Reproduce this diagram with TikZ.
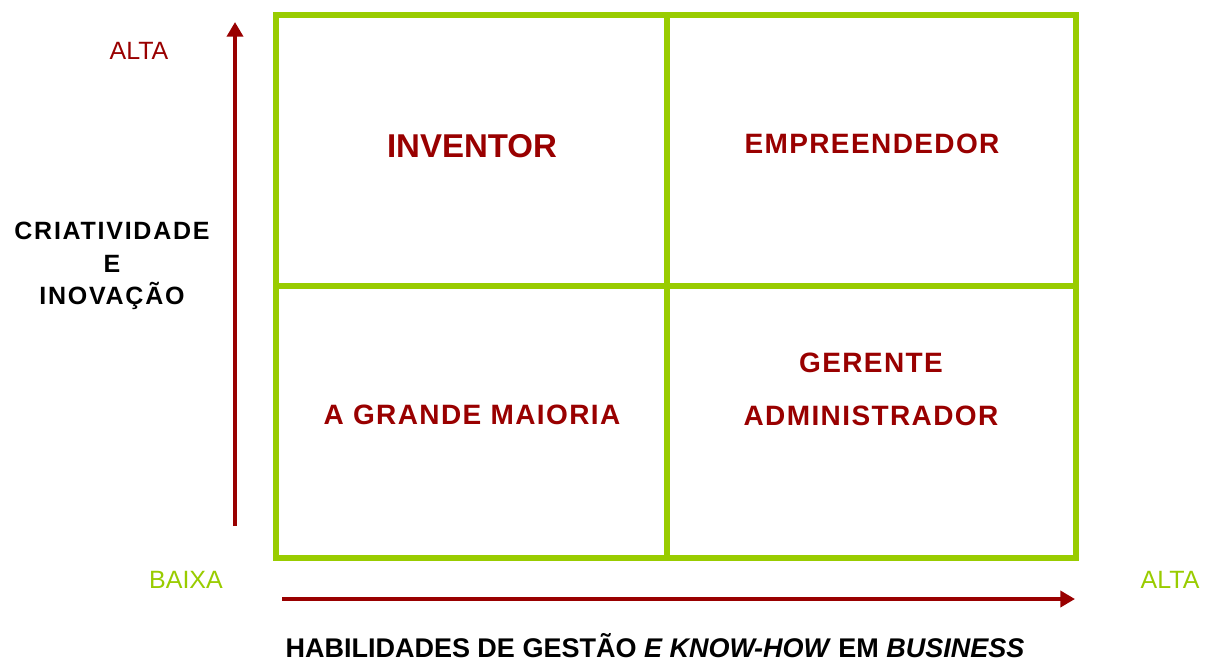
\documentclass[tikz,border=0pt]{standalone}
\usepackage{fontspec}
\setmainfont{Liberation Sans}
\usetikzlibrary{arrows.meta}
\definecolor{gridgreen}{HTML}{99CC00}
\definecolor{axisred}{HTML}{990000}

\begin{document}
\begin{tikzpicture}[x=0.75pt,y=-0.75pt,
	quadline/.style={draw=gridgreen,line width=4.5pt},
	axis/.style={draw=axisred,line width=3pt,-{Triangle[length=11pt,width=12pt]}},
	quadlabel/.style={text=axisred,font=\bfseries\fontsize{21}{25}\selectfont\addfontfeature{LetterSpace=5},anchor=base,inner sep=0pt},
	levellabel/.style={font=\fontsize{18.75}{22}\selectfont,anchor=base,inner sep=0pt}]
	\useasboundingbox (0,0) rectangle (1205,662);
	\coordinate (nw) at (276,15);
	\coordinate (se) at (1076,558);
	\coordinate (ntop) at (667,12);
	\coordinate (nbot) at (667,558);
	\coordinate (wmid) at (276,286);
	\coordinate (emid) at (1076,286);
	\draw [quadline] (nw) rectangle (se);
	\draw [quadline] (ntop) -- (nbot);
	\draw [quadline] (wmid) -- (emid);
	\coordinate (vstart) at (235,526);
	\coordinate (vend) at (235,22);
	\coordinate (hstart) at (282,599);
	\coordinate (hend) at (1075,599);
	\draw [axis] (vstart) -- (vend);
	\draw [axis] (hstart) -- (hend);
	\node [quadlabel,font=\bfseries\fontsize{24.75}{28}\selectfont] (inventor) at (472,157) {INVENTOR};
	\node [quadlabel] (empreendedor) at (872,153) {EMPREENDEDOR};
	\node [quadlabel] (maioria) at (472,424) {A GRANDE MAIORIA};
	\node [quadlabel] (gerente) at (871,372) {GERENTE};
	\node [quadlabel] (administrador) at (871,425) {ADMINISTRADOR};
	\node [levellabel,text=axisred] (altav) at (139,59) {ALTA};
	\node [levellabel,text=gridgreen] (baixa) at (186,588) {BAIXA};
	\node [levellabel,text=gridgreen] (altah) at (1170,588) {ALTA};
	\node [align=center,inner sep=0pt,font=\bfseries\fontsize{18.75}{24.4}\selectfont\addfontfeature{LetterSpace=7}] (criatividade) at (112,266) {CRIATIVIDADE\\E\\INOVAÇÃO};
	\node [anchor=base,inner sep=0pt,font=\bfseries\fontsize{20.25}{24}\selectfont] (gestao) at (655,657) {HABILIDADES DE GESTÃO \textit{E KNOW-HOW} EM \textit{BUSINESS}};
\end{tikzpicture}
\end{document}
